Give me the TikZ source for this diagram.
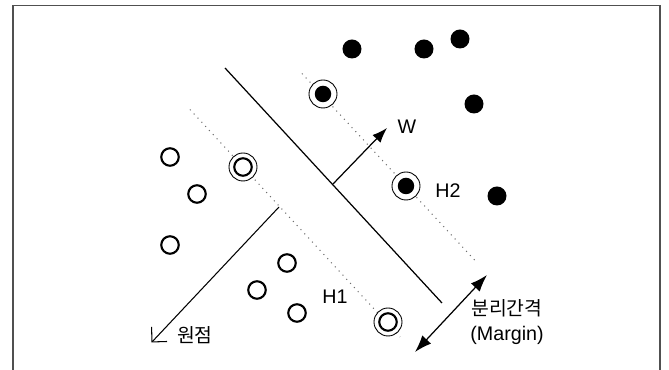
\documentclass[tikz,border=0pt]{standalone}
\usepackage{fontspec}
\setmainfont{Liberation Sans}
\newfontfamily\kofont{Noto Sans CJK KR}
\usetikzlibrary{arrows.meta}
\definecolor{myframegray}{RGB}{80,80,80}
\definecolor{mydotgray}{RGB}{110,110,110}

\begin{document}
\begin{tikzpicture}[>=Stealth,
    dot/.style={circle, fill=black, inner sep=0pt, minimum size=0.38cm},
    odot/.style={circle, draw=black, line width=1.2pt, inner sep=0pt, minimum size=0.35cm},
    ring/.style={circle, draw=black, fill=white, line width=0.5pt, inner sep=0pt, minimum size=0.56cm},
    lbl/.style={font=\fontsize{11.2}{13}\selectfont, inner sep=0pt},
    klbl/.style={font=\kofont\fontsize{11}{13}\selectfont, inner sep=0pt},
    marginline/.style={mydotgray, line width=0.6pt, dash pattern=on 0.6pt off 2.6pt}]
\useasboundingbox (0,0) rectangle (13.38,7.4);

% Frame
\draw[myframegray, line width=0.7pt] (0.26,0) -- (0.26,7.29) -- (13.2,7.29) -- (13.2,0);

% Hyperplanes
\coordinate (h0a) at (4.50,6.04);
\coordinate (h0b) at (8.84,1.34);
\coordinate (h1a) at (3.80,5.21);
\coordinate (h1b) at (8.00,0.66);
\coordinate (h2a) at (6.04,5.93);
\coordinate (h2b) at (9.50,2.19);
\draw[line width=0.7pt] (h0a) -- (h0b);
\draw[marginline] (h1a) -- (h1b);
\draw[marginline] (h2a) -- (h2b);

% Support vectors
\foreach \pos [count=\i] in {(6.46,5.52), (8.12,3.68)} {
    \node[ring] (rs\i) at \pos {};
    \node[dot, minimum size=0.33cm] (s\i) at \pos {};
}
\foreach \pos [count=\i] in {(4.86,4.06), (7.76,0.96)} {
    \node[ring] (ro\i) at \pos {};
    \node[odot] (so\i) at \pos {};
}

% Classes
\foreach \pos [count=\i] in {(7.04,6.42), (8.48,6.42), (9.20,6.62), (9.48,5.32), (9.94,3.48)}
    \node[dot] (p\i) at \pos {};
\foreach \pos [count=\i] in {(3.40,4.26), (3.94,3.52), (3.40,2.50), (5.74,2.14), (5.14,1.60), (5.94,1.14)}
    \node[odot] (n\i) at \pos {};

% Normal vector
\coordinate (wbase) at (6.66,3.72);
\coordinate (wtip) at (7.74,4.84);
\draw[-{Latex[length=0.3cm, width=0.22cm]}, line width=0.7pt] (wbase) -- (wtip);
\node[lbl] (wlbl) at (8.14,4.86) {W};

% Origin
\coordinate (ostart) at (5.58,3.26);
\coordinate (origin) at (3.03,0.55);
\draw[-{Straight Barb[angle=90:0.3cm]}, line width=0.6pt] (ostart) -- (origin);
\node[klbl] (olbl) at (3.90,0.70) {원점};

% Labels
\node[lbl] (h1lbl) at (6.70,1.46) {H1};
\node[lbl] (h2lbl) at (8.96,3.58) {H2};

% Margin
\coordinate (ma) at (9.74,1.90);
\coordinate (mb) at (8.30,0.36);
\draw[{Latex[length=0.34cm, width=0.24cm]}-{Latex[length=0.34cm, width=0.24cm]}, line width=0.7pt] (mb) -- (ma);
\node[klbl] (mlbl) at (10.14,1.24) {분리간격};
\node[lbl] (mlbl2) at (10.14,0.70) {(Margin)};
\end{tikzpicture}
\end{document}
